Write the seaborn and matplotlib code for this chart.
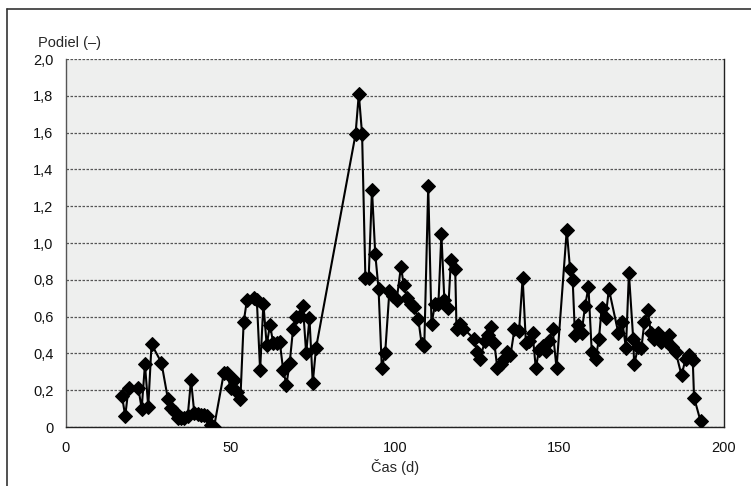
import matplotlib
matplotlib.use("Agg")
import matplotlib.pyplot as plt
from matplotlib.lines import Line2D
import seaborn as sns
import pandas as pd

# Measured share over time
days = [17, 18, 19, 22, 23, 24, 25, 26, 29, 31, 32, 33, 34, 35, 36, 37, 38, 39,
        40, 41, 42, 43, 44, 45, 48, 49, 50, 51, 52, 53, 54, 55, 57, 58, 59, 60,
        61, 62, 63, 64, 65, 66, 67, 68, 69, 70, 71, 72, 73, 74, 75, 76, 88, 89,
        90, 91, 92, 93, 94, 95, 96, 97, 98.3, 99.5, 100.5, 101.8, 102.7, 103.7,
        104.8, 105.9, 107.1, 108.1, 108.9, 110.1, 111.1, 112.2, 113.2, 114.1,
        115.0, 116.2, 117.0, 118.3, 118.7, 119.8, 120.8, 124.0, 125.0, 125.8,
        127.4, 128.4, 129.2, 130.2, 131.1, 132.1, 133.1, 134.1, 135.1, 136.3,
        137.7, 138.8, 139.8, 140.8, 141.8, 142.8, 143.8, 144.9, 145.9, 146.9,
        147.9, 149.1, 152.2, 153.2, 154.0, 154.7, 155.7, 156.7, 157.8, 158.8,
        159.8, 161.0, 162.0, 162.8, 164.0, 165.0, 167.9, 169.1, 170.2, 171.1,
        172.4, 172.7, 173.9, 174.9, 175.8, 176.8, 177.8, 178.8, 180.0, 181.0,
        182.3, 183.3, 184.3, 185.3, 187.1, 188.3, 189.4, 190.5, 190.9, 192.9]
share = [0.17, 0.06, 0.21, 0.21, 0.10, 0.34, 0.11, 0.45, 0.35, 0.15, 0.105, 0.08,
         0.05, 0.05, 0.05, 0.06, 0.255, 0.075, 0.07, 0.065, 0.065, 0.06, 0.01,
         0.00, 0.295, 0.295, 0.21, 0.255, 0.19, 0.15, 0.57, 0.69, 0.70, 0.69,
         0.31, 0.67, 0.445, 0.555, 0.455, 0.455, 0.46, 0.31, 0.23, 0.35, 0.53,
         0.60, 0.605, 0.66, 0.40, 0.59, 0.24, 0.43, 1.59, 1.81, 1.59, 0.81, 0.81,
         1.29, 0.94, 0.75, 0.32, 0.40, 0.74, 0.71, 0.69, 0.87, 0.77, 0.70, 0.67,
         0.65, 0.585, 0.45, 0.44, 1.31, 0.56, 0.67, 0.67, 1.05, 0.69, 0.645,
         0.91, 0.86, 0.53, 0.56, 0.535, 0.48, 0.41, 0.37, 0.47, 0.50, 0.545,
         0.455, 0.32, 0.34, 0.37, 0.405, 0.39, 0.53, 0.52, 0.81, 0.455, 0.47,
         0.51, 0.32, 0.42, 0.44, 0.415, 0.47, 0.53, 0.32, 1.07, 0.86, 0.80, 0.50,
         0.555, 0.51, 0.66, 0.76, 0.41, 0.37, 0.48, 0.645, 0.59, 0.75, 0.51,
         0.57, 0.43, 0.835, 0.48, 0.34, 0.435, 0.43, 0.57, 0.635, 0.51, 0.48,
         0.51, 0.46, 0.47, 0.50, 0.435, 0.41, 0.28, 0.37, 0.39, 0.365, 0.16, 0.03]

x_ticks = [0, 50, 100, 150, 200]
x_labels = ["0", "50", "100", "150", "200"]
y_ticks = [0, 0.2, 0.4, 0.6, 0.8, 1.0, 1.2, 1.4, 1.6, 1.8, 2.0]
y_labels = ["0", "0,2", "0,4", "0,6", "0,8", "1,0", "1,2", "1,4", "1,6", "1,8", "2,0"]

df = pd.DataFrame({"Čas": days, "Podiel": share})

sns.set_style("white")
plt.rcParams["font.family"] = ["Liberation Sans", "DejaVu Sans"]
plt.rcParams["font.size"] = 10

fig = plt.figure(figsize=(7.51, 4.86), dpi=100)
ax = fig.add_axes([66 / 751, 1 - 427 / 486, (724 - 66) / 751, (427 - 59) / 486])
ax.set_facecolor("#eeefee")

sns.lineplot(data=df, x="Čas", y="Podiel", ax=ax, sort=False, estimator=None,
             color="black", linewidth=1.5, marker="D", markersize=7,
             markeredgecolor="black", markerfacecolor="black", zorder=3)

ax.set_xlim(0, 200)
ax.set_ylim(0, 2.0)
ax.set_xticks(x_ticks, x_labels)
ax.set_yticks(y_ticks, y_labels)
ax.set_xlabel("")
ax.set_ylabel("")

ax.yaxis.grid(True, linestyle=(0, (2.0, 1.2)), color="#555555", linewidth=0.9)
ax.xaxis.grid(False)
ax.set_axisbelow(True)

for side in ("left", "bottom", "right"):
    ax.spines[side].set_visible(True)
    ax.spines[side].set_color("#222222")
    ax.spines[side].set_linewidth(1.0)
ax.spines["top"].set_visible(False)
ax.spines["left"].set_color("#555555")

ax.tick_params(axis="both", direction="out", length=6, width=0.9, color="#333333",
               labelsize=10.5, colors="#111111")
ax.tick_params(axis="x", pad=4)
ax.tick_params(axis="y", pad=3)

fig.text(38 / 751, 1 - 43 / 486, "Podiel (–)", ha="left", va="center", fontsize=10.5)
fig.text(395 / 751, 1 - 467 / 486, "Čas (d)", ha="center", va="center", fontsize=10.5)

# frame lines along the top and left edges of the figure
fig.add_artist(Line2D([7 / 751, 1.0], [1 - 9 / 486, 1 - 9 / 486],
                      transform=fig.transFigure, color="#333333", linewidth=1.2))
fig.add_artist(Line2D([7 / 751, 7 / 751], [0.0, 1 - 9 / 486],
                      transform=fig.transFigure, color="#333333", linewidth=1.2))

fig.savefig("out.png", dpi=100)
